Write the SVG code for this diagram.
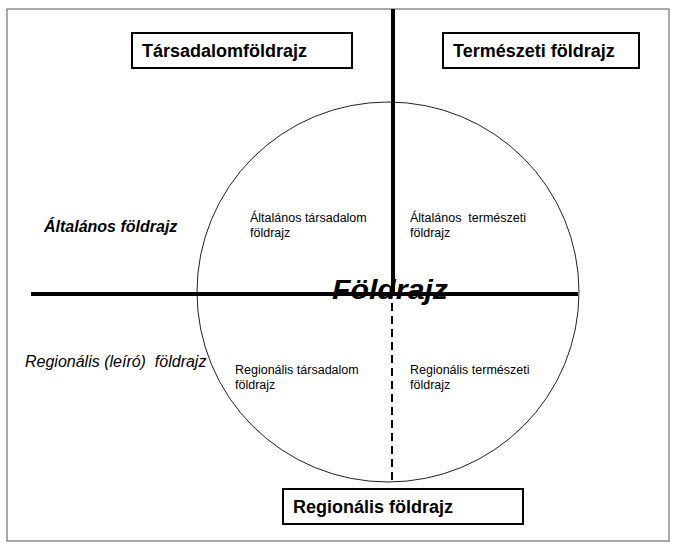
<svg xmlns="http://www.w3.org/2000/svg" width="680" height="549" viewBox="0 0 680 549">
<style>
.box{fill:#fff;stroke:#000;stroke-width:2}
.bt{font-family:"Liberation Sans",Arial,sans-serif;font-weight:bold;font-size:18px;fill:#000}
.st{font-family:"Liberation Sans",Arial,sans-serif;font-size:12.5px;fill:#000}
.it{font-family:"Liberation Sans",Arial,sans-serif;font-style:italic;font-size:16px;fill:#000}
.thick{stroke:#000;stroke-width:4}
</style>
<rect x="0" y="0" width="680" height="549" fill="#fff"/>
<rect id="frame" x="7" y="9" width="662" height="532" fill="none" stroke="#555" stroke-width="1"/>
<g id="connectors">
<ellipse cx="388" cy="292" rx="191" ry="190" fill="none" stroke="#222" stroke-width="1"/>
<line class="thick" x1="31" y1="294" x2="578" y2="294"/>
<line class="thick" x1="393" y1="9" x2="393" y2="294"/>
<line x1="392" y1="303" x2="392" y2="482" stroke="#000" stroke-width="2" stroke-dasharray="8 5"/>
</g>
<g id="tarsadalom">
<rect class="box" x="132" y="33" width="220" height="35"/>
<text class="bt" x="142" y="57">Társadalomföldrajz</text>
</g>
<g id="termeszeti">
<rect class="box" x="443" y="33" width="196" height="35"/>
<text class="bt" x="453" y="57">Természeti földrajz</text>
</g>
<g id="regionalis">
<rect class="box" x="283" y="489" width="240" height="35"/>
<text class="bt" x="293" y="513">Regionális földrajz</text>
</g>
<g id="altalanos-label">
<text class="it" x="44" y="232" font-weight="bold">Általános földrajz</text>
</g>
<g id="regionalis-label">
<text class="it" x="25" y="367" xml:space="preserve">Regionális (leíró)  földrajz</text>
</g>
<g id="foldrajz">
<text x="332" y="299" font-family="Liberation Sans,Arial,sans-serif" font-weight="bold" font-style="italic" font-size="28" textLength="116" lengthAdjust="spacingAndGlyphs">Földrajz</text>
</g>
<g id="q1">
<text class="st" x="250" y="222">Általános társadalom</text>
<text class="st" x="250" y="237">földrajz</text>
</g>
<g id="q2">
<text class="st" x="410" y="222" xml:space="preserve">Általános  természeti</text>
<text class="st" x="410" y="237">földrajz</text>
</g>
<g id="q3">
<text class="st" x="235" y="374">Regionális társadalom</text>
<text class="st" x="235" y="389">földrajz</text>
</g>
<g id="q4">
<text class="st" x="410" y="374">Regionális természeti</text>
<text class="st" x="410" y="389">földrajz</text>
</g>
</svg>
